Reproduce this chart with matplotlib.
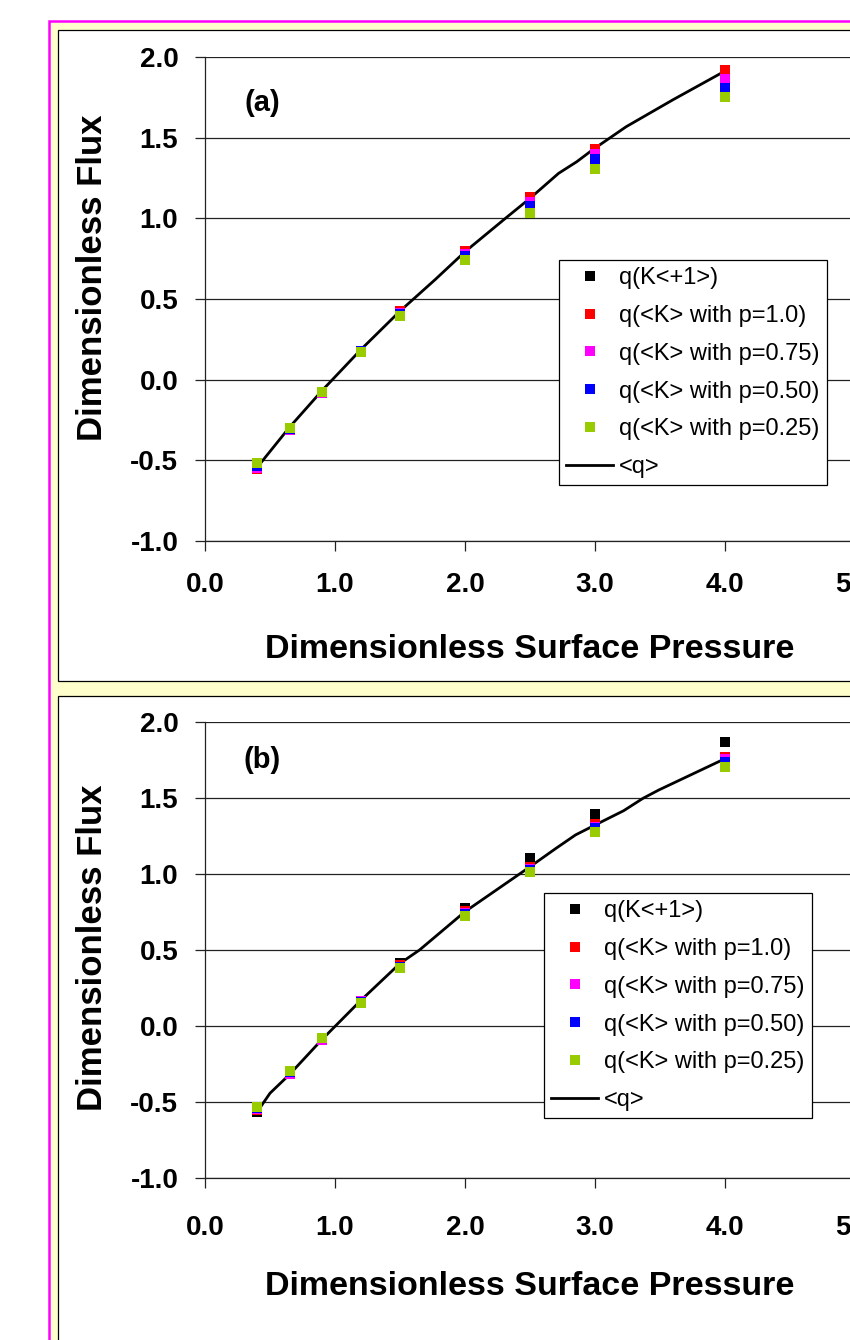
import matplotlib
matplotlib.use("Agg")
import matplotlib.pyplot as plt
from matplotlib.patches import Rectangle
from matplotlib.lines import Line2D

plt.rcParams['font.family'] = ['Liberation Sans', 'DejaVu Sans']

# ---------------- data ----------------
PRESSURE = [0.4, 0.65, 0.9, 1.2, 1.5, 2.0, 2.5, 3.0, 4.0]

# panel (a)
A_K1   = [-0.556, -0.315, -0.082, 0.178, 0.426, 0.795, 1.130, 1.428, 1.919]
A_P100 = [-0.556, -0.315, -0.082, 0.178, 0.426, 0.795, 1.130, 1.428, 1.919]
A_P075 = [-0.545, -0.310, -0.081, 0.179, 0.416, 0.780, 1.103, 1.397, 1.862]
A_P050 = [-0.533, -0.305, -0.078, 0.176, 0.406, 0.765, 1.076, 1.366, 1.806]
A_P025 = [-0.519, -0.298, -0.075, 0.173, 0.397, 0.740, 1.031, 1.306, 1.750]
A_LINE_P = [0.4, 0.65, 0.9, 1.2, 1.5, 1.77, 2.0, 2.32, 2.5, 2.72, 2.86, 2.98, 3.24, 3.6, 4.0]
A_LINE_Q = [-0.545, -0.295, -0.068, 0.187, 0.425, 0.62, 0.793, 1.006, 1.124, 1.279, 1.351, 1.424, 1.568, 1.735, 1.913]

# panel (b)
B_K1   = [-0.566, -0.305, -0.080, 0.165, 0.413, 0.778, 1.102, 1.392, 1.865]
B_P100 = [-0.551, -0.312, -0.085, 0.162, 0.401, 0.756, 1.047, 1.326, 1.770]
B_P075 = [-0.545, -0.317, -0.089, 0.167, 0.390, 0.743, 1.032, 1.310, 1.755]
B_P050 = [-0.536, -0.300, -0.080, 0.160, 0.386, 0.735, 1.025, 1.300, 1.733]
B_P025 = [-0.530, -0.293, -0.076, 0.154, 0.384, 0.725, 1.014, 1.277, 1.704]
B_LINE_P = [0.4, 0.5, 0.65, 0.9, 1.2, 1.5, 1.65, 2.0, 2.5, 2.7, 2.85, 3.0, 3.22, 3.37, 3.49, 4.0]
B_LINE_Q = [-0.565, -0.441, -0.318, -0.088, 0.17, 0.412, 0.5, 0.752, 1.047, 1.168, 1.256, 1.321, 1.415, 1.497, 1.551, 1.757]

SERIES_LABELS = ['q(K<+1>)', 'q(<K> with p=1.0)', 'q(<K> with p=0.75)',
                 'q(<K> with p=0.50)', 'q(<K> with p=0.25)']
LINE_LABEL = '<q>'
SERIES_COLORS = ['#000000', '#FF0000', '#FF00FF', '#0000FF', '#99CC00']

X_TICKS = [0, 1, 2, 3, 4, 5]
X_TICK_LABELS = ['0.0', '1.0', '2.0', '3.0', '4.0', '5.0']
Y_TICKS = [-1.0, -0.5, 0.0, 0.5, 1.0, 1.5, 2.0]
Y_TICK_LABELS = ['-1.0', '-0.5', '0.0', '0.5', '1.0', '1.5', '2.0']

X_LABEL = 'Dimensionless Surface Pressure'
Y_LABEL = 'Dimensionless Flux'

# ---------------- figure ----------------
W, H = 850, 1340
fig = plt.figure(figsize=(W / 100, H / 100), dpi=100)
fig.patch.set_facecolor('white')


def fx(x):
    return x / W


def fy(y):
    return 1 - y / H


# background frames
fig.add_artist(Rectangle((fx(49), fy(1500)), (1000 - 49) / W, (1500 - 20.5) / H,
                         transform=fig.transFigure, facecolor='#FFFFCC',
                         edgecolor='#FF00FF', linewidth=1.8, zorder=-20))
fig.add_artist(Rectangle((fx(58), fy(681)), (1000 - 58) / W, (681 - 29.5) / H,
                         transform=fig.transFigure, facecolor='white',
                         edgecolor='black', linewidth=0.9, zorder=-10))
fig.add_artist(Rectangle((fx(58), fy(1500)), (1000 - 58) / W, (1500 - 696) / H,
                         transform=fig.transFigure, facecolor='white',
                         edgecolor='black', linewidth=0.9, zorder=-10))


def make_panel(top, bottom, series, line_p, line_q, tag, tag_y, xpad,
               xlabel_base, ylabel_center, leg_left, leg_top):
    ax = fig.add_axes([fx(205), fy(bottom), 650 / W, (bottom - top) / H])
    ax.patch.set_visible(False)
    ax.set_xlim(0, 5)
    ax.set_ylim(-1, 2)
    ax.set_xticks(X_TICKS, labels=X_TICK_LABELS)
    ax.set_yticks(Y_TICKS, labels=Y_TICK_LABELS)
    for s in ['top', 'right']:
        ax.spines[s].set_visible(False)
    for s in ['left', 'bottom']:
        ax.spines[s].set_color('#222222')
        ax.spines[s].set_linewidth(0.9)
    ax.yaxis.grid(True, color='#222222', linewidth=0.9)
    ax.set_axisbelow(True)
    ax.tick_params(axis='both', direction='out', length=7.2, width=0.9,
                   color='#222222', labelsize=20)
    ax.tick_params(axis='y', pad=12)
    ax.tick_params(axis='x', pad=xpad)
    for lab in ax.get_xticklabels() + ax.get_yticklabels():
        lab.set_fontweight('bold')

    ax.plot(line_p, line_q, color='black', linewidth=2.0, zorder=3,
            solid_joinstyle='round', clip_on=False)
    for vals, col in zip(series, SERIES_COLORS):
        ax.plot(PRESSURE, vals, linestyle='none', marker='s', markersize=7.0,
                markerfacecolor=col, markeredgewidth=0, zorder=4, clip_on=False)

    handles = [Line2D([], [], linestyle='none', marker='s', markersize=7.0,
                      markerfacecolor=c, markeredgewidth=0) for c in SERIES_COLORS]
    handles.append(Line2D([], [], color='black', linewidth=2.0))
    leg = ax.legend(handles, SERIES_LABELS + [LINE_LABEL], loc='upper left',
                    bbox_to_anchor=(fx(leg_left), fy(leg_top)),
                    bbox_transform=fig.transFigure, borderaxespad=0,
                    fontsize=17, frameon=True, fancybox=False, shadow=False,
                    framealpha=1, edgecolor='black', borderpad=0.3,
                    labelspacing=0.67, handlelength=2.0, handletextpad=0.25,
                    numpoints=1)
    leg.get_frame().set_linewidth(0.9)
    leg.set_zorder(10)

    fig.text(fx(262), fy(tag_y), tag, ha='center', va='center', fontsize=21,
             fontweight='bold')
    fig.text(fx(530), fy(xlabel_base), X_LABEL, ha='center', va='baseline',
             fontsize=24.5, fontweight='bold')
    fig.text(fx(102), fy(ylabel_center), Y_LABEL, rotation=90,
             rotation_mode='anchor', ha='center', va='baseline',
             fontsize=25, fontweight='bold')
    return ax


make_panel(57, 541, [A_K1, A_P100, A_P075, A_P050, A_P025], A_LINE_P, A_LINE_Q,
           '(a)', 103, 15, 658, 278, 559, 260)
make_panel(721.7, 1178.3, [B_K1, B_P100, B_P075, B_P050, B_P025], B_LINE_P, B_LINE_Q,
           '(b)', 760, 19, 1295, 948, 544, 893)

fig.savefig('out.png', dpi=100)
